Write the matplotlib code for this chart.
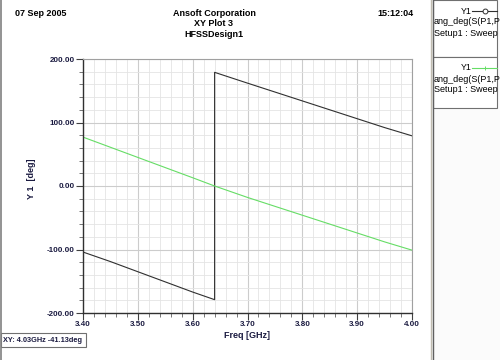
import matplotlib
matplotlib.use("Agg")
import matplotlib.pyplot as plt
from matplotlib.patches import Rectangle
from matplotlib.lines import Line2D
from matplotlib.ticker import MultipleLocator, FormatStrFormatter

plt.rcParams['font.family'] = ['Liberation Sans', 'DejaVu Sans']

# Data
freq_green = [3.40, 3.45, 3.50, 3.55, 3.60, 3.64, 3.70, 3.75, 3.80, 3.85, 3.90, 3.95, 4.00]
phase_green = [77, 61, 45, 29, 13, 0, -18, -32, -46, -60, -74, -88, -101]
freq_black = [3.40, 3.45, 3.50, 3.55, 3.60, 3.64, 3.64, 3.70, 3.75, 3.80, 3.85, 3.90, 3.95, 4.00]
phase_black = [-104, -119, -135, -151, -167, -179, 179, 162, 148, 134, 120, 106, 92, 79]
legend_names = ['ang_deg(S(P1,P', 'ang_deg(S(P1,P']
legend_setups = ['Setup1 : Sweep', 'Setup1 : Sweep']

W, H = 500, 360
fig = plt.figure(figsize=(W / 100, H / 100), dpi=100)
fig.patch.set_facecolor('white')

def fx(px):
    return px / W

def fy(py):
    return 1 - py / H

ax = fig.add_axes([fx(83), fy(313), fx(412) - fx(83), fy(59) - fy(313)])
ax.plot(freq_black, phase_black, color='#303030', lw=0.8)
ax.plot(freq_green, phase_green, color='#66dd66', lw=0.8)
ax.set_xlim(3.40, 4.00)
ax.set_ylim(-200, 200)

ax.xaxis.set_major_locator(MultipleLocator(0.1))
ax.xaxis.set_minor_locator(MultipleLocator(0.02))
ax.yaxis.set_major_locator(MultipleLocator(100))
ax.yaxis.set_minor_locator(MultipleLocator(20))
ax.xaxis.set_major_formatter(FormatStrFormatter('%.2f'))
ax.yaxis.set_major_formatter(FormatStrFormatter('%.2f'))
ax.grid(which='major', color='#cccccc', lw=0.8)
ax.grid(which='minor', color='#e4e4e4', lw=0.6)
ax.set_axisbelow(True)
ax.tick_params(which='major', length=5, width=0.8, color='#404040', labelsize=5.8,
               labelcolor='#1a1a40', pad=1)
ax.tick_params(which='minor', length=3, width=0.6, color='#606060')
for lab in ax.get_xticklabels() + ax.get_yticklabels():
    lab.set_fontweight('bold')
for side in ['left', 'bottom']:
    ax.spines[side].set_color('#303030')
    ax.spines[side].set_linewidth(1.0)
for side in ['top', 'right']:
    ax.spines[side].set_color('#a0a0a0')
    ax.spines[side].set_linewidth(0.8)

ax.set_xlabel('Freq [GHz]', fontsize=6.5, fontweight='bold', color='#1a1a40', labelpad=2)
fig.text(fx(31), fy(179), 'Y 1  [deg]', rotation=90, fontsize=6.5, fontweight='bold',
         color='#1a1a40', ha='center', va='center')

# Header texts
fig.text(fx(15), fy(13), '07 Sep 2005', fontsize=6.5, fontweight='bold', ha='left', va='center')
fig.text(fx(214), fy(13), 'Ansoft Corporation', fontsize=6.5, fontweight='bold', ha='center', va='center')
fig.text(fx(214), fy(24), 'XY Plot 3', fontsize=6.5, fontweight='bold', ha='center', va='center')
fig.text(fx(214), fy(34.5), 'HFSSDesign1', fontsize=6.5, fontweight='bold', ha='center', va='center')
fig.text(fx(414), fy(13), '15:12:04', fontsize=6.5, fontweight='bold', ha='right', va='center')

# Window borders
fig.add_artist(Line2D([fx(1), fx(1)], [0, 1], color='#808080', lw=1.2))
fig.add_artist(Rectangle((fx(432), 0), fx(500) - fx(432), 1, facecolor='#fbfbfb',
                         edgecolor='none'))
fig.add_artist(Line2D([fx(431), fx(431)], [0, 1], color='#c0bcb0', lw=1.0))
fig.add_artist(Line2D([fx(432.5), fx(432.5)], [0, 1], color='#606060', lw=1.0))

# Legend boxes
boxes = [(0, 57, '#303030', 'o'), (57, 108, '#66dd66', '+')]
for (top, bot, col, mk), name, setup in zip(boxes, legend_names, legend_setups):
    fig.add_artist(Rectangle((fx(433), fy(bot)), fx(497) - fx(433), fy(top) - fy(bot),
                             facecolor='white', edgecolor='#707070', lw=0.8))
    yl = top + 11
    fig.text(fx(472), fy(yl), 'Y1', fontsize=6.3, ha='right', va='center')
    fig.add_artist(Line2D([fx(472), fx(497)], [fy(yl), fy(yl)], color=col, lw=0.8))
    fig.add_artist(Line2D([fx(485)], [fy(yl)], color=col, marker=mk, markersize=3.5,
                          markerfacecolor='white', markeredgewidth=0.7, lw=0))
    fig.text(fx(434), fy(top + 22), name, fontsize=6.5, ha='left', va='center')
    fig.text(fx(434), fy(top + 33), setup, fontsize=6.5, ha='left', va='center')

# Bottom-left status box
fig.add_artist(Rectangle((fx(0.5), fy(347)), fx(85), fy(333) - fy(347), facecolor='white',
                         edgecolor='#707070', lw=0.8))
fig.text(fx(3), fy(340), 'XY: 4.03GHz -41.13deg', fontsize=5.3, fontweight='bold',
         ha='left', va='center', color='#1a1a40')

fig.savefig('out.png', dpi=100)
